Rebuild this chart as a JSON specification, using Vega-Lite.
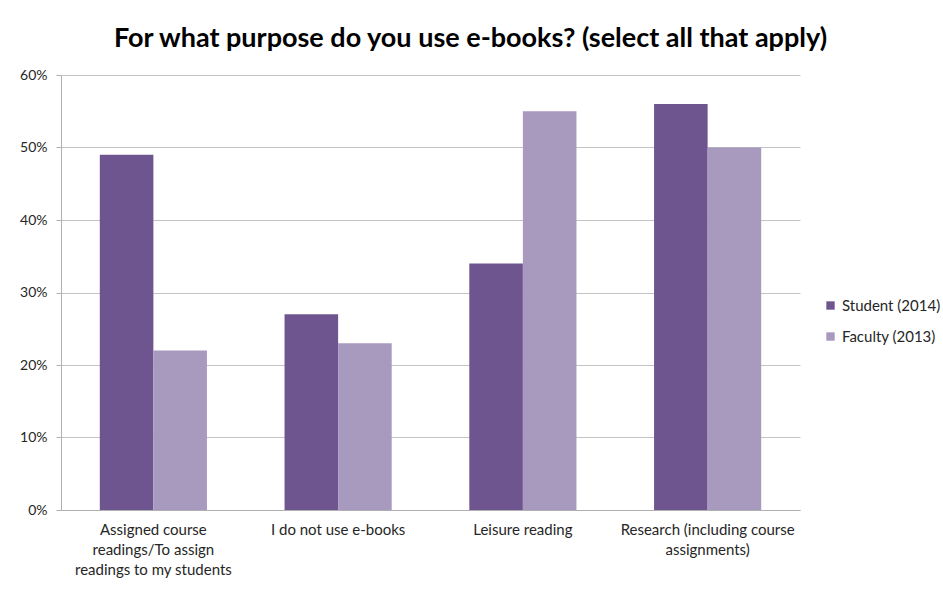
{
  "$schema": "https://vega.github.io/schema/vega-lite/v6.json",
  "width": 739,
  "height": 435,
  "autosize": {"type": "none"},
  "padding": {"left": 61, "top": 75, "right": 143, "bottom": 80},
  "background": "white",
  "title": {
    "text": "For what purpose do you use e-books? (select all that apply)",
    "font": "Lato",
    "fontSize": 27,
    "fontWeight": "bold",
    "color": "#000000",
    "anchor": "middle",
    "dx": 40,
    "offset": 15
  },
  "data": {
    "values": [
      {"purpose": "Assigned course readings/To assign readings to my students", "group": "Student (2014)", "pct": 0.49},
      {"purpose": "Assigned course readings/To assign readings to my students", "group": "Faculty (2013)", "pct": 0.22},
      {"purpose": "I do not use e-books", "group": "Student (2014)", "pct": 0.27},
      {"purpose": "I do not use e-books", "group": "Faculty (2013)", "pct": 0.23},
      {"purpose": "Leisure reading", "group": "Student (2014)", "pct": 0.34},
      {"purpose": "Leisure reading", "group": "Faculty (2013)", "pct": 0.55},
      {"purpose": "Research (including course assignments)", "group": "Student (2014)", "pct": 0.56},
      {"purpose": "Research (including course assignments)", "group": "Faculty (2013)", "pct": 0.50}
    ]
  },
  "mark": {"type": "bar"},
  "encoding": {
    "x": {
      "field": "purpose",
      "type": "nominal",
      "sort": null,
      "title": null,
      "scale": {"paddingInner": 0.42, "paddingOuter": 0.21},
      "axis": {
        "labelAngle": 0,
        "labelFont": "Lato",
        "labelFontSize": 15,
        "labelColor": "#262626",
        "labelLineHeight": 20,
        "labelPadding": 12,
        "ticks": false,
        "domainColor": "#b0b0b0",
        "labelExpr": "datum.value == 'Assigned course readings/To assign readings to my students' ? ['Assigned course', 'readings/To assign', 'readings to my students'] : datum.value == 'Research (including course assignments)' ? ['Research (including course', 'assignments)'] : datum.value"
      }
    },
    "xOffset": {
      "field": "group",
      "type": "nominal",
      "sort": ["Student (2014)", "Faculty (2013)"],
      "scale": {"paddingInner": 0, "paddingOuter": 0}
    },
    "y": {
      "field": "pct",
      "type": "quantitative",
      "title": null,
      "scale": {"domain": [0, 0.6]},
      "axis": {
        "format": ".0%",
        "values": [0, 0.1, 0.2, 0.3, 0.4, 0.5, 0.6],
        "labelFont": "Lato",
        "labelFontSize": 14,
        "labelColor": "#262626",
        "labelPadding": 9,
        "tickSize": 5,
        "tickColor": "#b0b0b0",
        "domainColor": "#b0b0b0",
        "gridColor": "#c4c4c4",
        "gridWidth": 1
      }
    },
    "color": {
      "field": "group",
      "type": "nominal",
      "sort": ["Student (2014)", "Faculty (2013)"],
      "scale": {"domain": ["Student (2014)", "Faculty (2013)"], "range": ["#6f5590", "#a899bf"]},
      "legend": {
        "title": null,
        "orient": "none",
        "legendX": 762,
        "legendY": 223,
        "symbolType": "square",
        "symbolSize": 70,
        "symbolStrokeWidth": 0,
        "labelFont": "Lato",
        "labelFontSize": 15,
        "labelColor": "#262626",
        "rowPadding": 15,
        "labelOffset": 4
      }
    }
  },
  "config": {
    "view": {"stroke": null}
  }
}
